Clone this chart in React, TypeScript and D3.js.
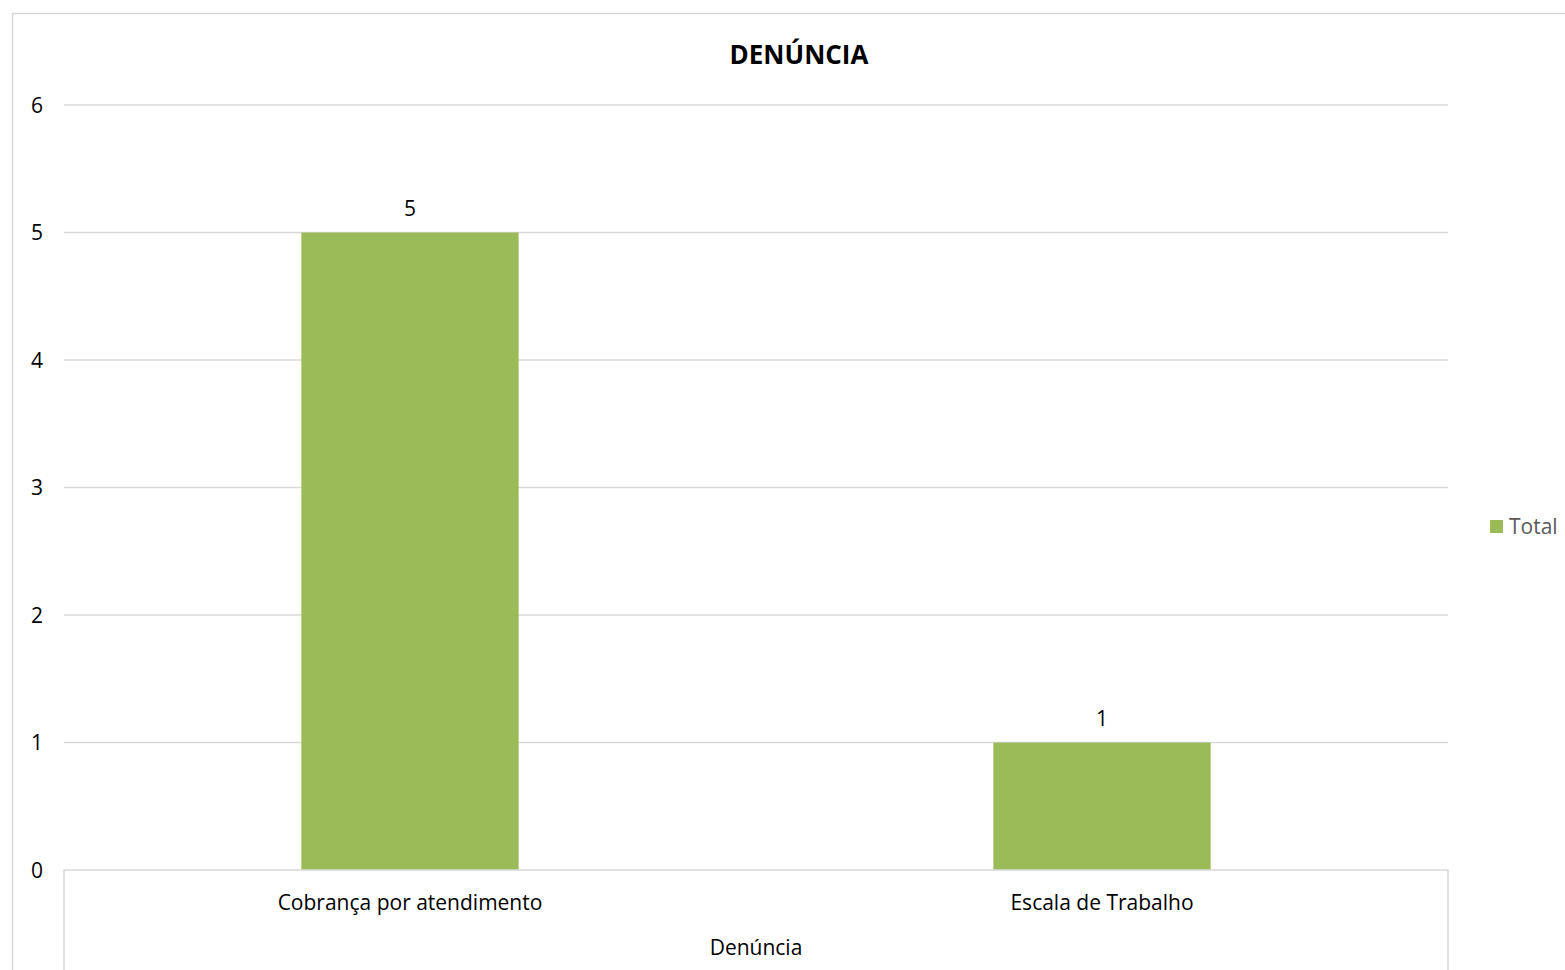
import React from "react";
import * as d3 from "d3";

const categories = ["Cobrança por atendimento", "Escala de Trabalho"];
const totals = [5, 1];
const yTicks = [0, 1, 2, 3, 4, 5, 6];
const title = "DENÚNCIA";
const axisTitle = "Denúncia";
const seriesName = "Total";

const W = 1565;
const H = 970;
const plot = { left: 64, right: 1448, top: 105, bottom: 870 };
const FONT = "'Open Sans', sans-serif";
const GREEN = "#9bbb59";
const GRID = "#d9d9d9";
const FS = 21;

export default function App() {
  const x = d3
    .scaleBand<string>()
    .domain(categories)
    .range([plot.left, plot.right])
    .paddingInner(0.686)
    .paddingOuter(0.343);
  const band = d3.scaleBand<string>().domain(categories).range([plot.left, plot.right]);
  const y = d3.scaleLinear().domain([0, 6]).range([plot.bottom, plot.top]);

  return (
    <div style={{ position: "fixed", left: 0, top: 0, width: W, height: H, background: "#fff" }}>
      <svg width={W} height={H} style={{ display: "block", fontFamily: FONT }}>
        <rect x={12.5} y={13.5} width={W + 10} height={H + 10} fill="#fff" stroke={GRID} strokeWidth={1.5} />
        <text x={799} y={64} textAnchor="middle" fontSize={26} fontWeight="bold" fill="#000">
          {title}
        </text>
        {yTicks.map((t) => (
          <g key={t}>
            {t > 0 && (
              <line x1={plot.left} x2={plot.right} y1={y(t)} y2={y(t)} stroke={GRID} strokeWidth={1.5} />
            )}
            <text x={43} y={y(t) + 7.5} textAnchor="end" fontSize={FS} fill="#000">
              {t}
            </text>
          </g>
        ))}
        {categories.map((c, i) => (
          <g key={c}>
            <rect x={x(c)} y={y(totals[i])} width={x.bandwidth()} height={y(0) - y(totals[i])} fill={GREEN} />
            <text
              x={(x(c) as number) + x.bandwidth() / 2}
              y={y(totals[i]) - 17}
              textAnchor="middle"
              fontSize={FS}
              fill="#000"
            >
              {totals[i]}
            </text>
            <text
              x={(band(c) as number) + band.bandwidth() / 2}
              y={910}
              textAnchor="middle"
              fontSize={FS}
              fill="#000"
            >
              {c}
            </text>
          </g>
        ))}
        <path
          d={`M${plot.left},${H} V${plot.bottom} H${plot.right} V${H}`}
          fill="none"
          stroke={GRID}
          strokeWidth={1.5}
        />
        <text x={756} y={955} textAnchor="middle" fontSize={FS} fill="#000">
          {axisTitle}
        </text>
        <rect x={1490} y={520} width={13} height={13} fill={GREEN} />
        <text x={1509} y={534} fontSize={FS} fill="#595959">
          {seriesName}
        </text>
      </svg>
    </div>
  );
}
